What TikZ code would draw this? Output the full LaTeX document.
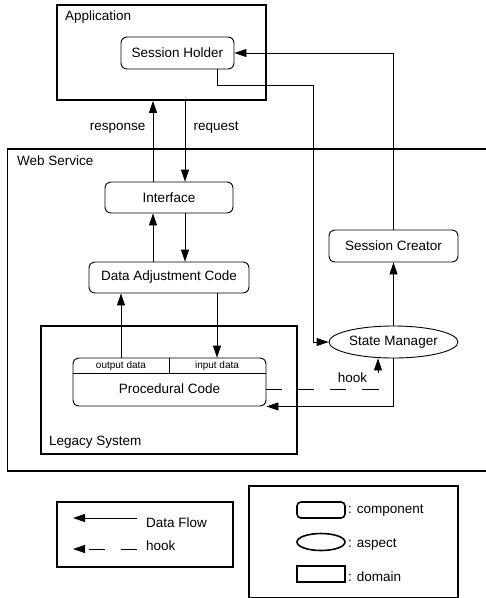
\documentclass[tikz,border=0pt]{standalone}
\usepackage{fontspec}
\setmainfont{Liberation Sans}
\usetikzlibrary{arrows.meta, positioning, shapes.geometric}
\tikzset{
  comp/.style={draw, rounded corners=6pt, line width=0.9pt, inner sep=0pt, minimum height=32pt},
  dombox/.style={draw, line width=1.7pt, inner sep=0pt},
  aspect/.style={draw, ellipse, line width=0.9pt, inner sep=0pt, minimum width=129pt, minimum height=32pt},
  tag/.style={inner sep=0pt, anchor=west},
  flow/.style={-{Triangle[length=12pt, width=8pt]}, line width=0.9pt},
  hookflow/.style={flow, dash pattern=on 16pt off 16pt},
  legbox/.style={draw, line width=1.3pt, inner sep=0pt},
}
\begin{document}
\begin{tikzpicture}[x=1pt, y=-1pt, font=\fontsize{13.5}{16}\selectfont]
  \useasboundingbox (0,0) rectangle (486,598);

  \node[dombox, minimum width=209pt, minimum height=95pt] (app) at (161.5,52.5) {};
  \node[tag] (applbl) at (65,17) {Application};
  \node[comp, minimum width=113pt] (sh) at (177.5,53) {Session Holder};

  \node[dombox, minimum width=480pt, minimum height=322pt] (ws) at (247.5,310) {};
  \node[tag] (wslbl) at (17,161) {Web Service};
  \node[comp, minimum width=128pt, minimum height=31pt] (iface) at (169,197.5) {Interface};
  \node[comp, minimum width=160pt, minimum height=31pt] (dadj) at (169,277.5) {Data Adjustment Code};
  \node[comp, minimum width=129pt] (sc) at (393.5,246) {Session Creator};
  \node[aspect] (sm) at (393.5,342) {State Manager};

  \node[dombox, minimum width=256pt, minimum height=128pt] (legacy) at (169,390) {};
  \node[tag] (legacylbl) at (49,442) {Legacy System};
  \node[comp, minimum width=193pt, minimum height=48pt] (proc) at (169.5,382) {};
  \draw[line width=0.9pt] ([yshift=-16pt]proc.north west) -- ([yshift=-16pt]proc.north east);
  \draw[line width=0.9pt] (proc.north) -- ([yshift=-16pt]proc.north);
  \node[font=\fontsize{10}{12}\selectfont] (outdata) at (121,366) {output data};
  \node[font=\fontsize{10}{12}\selectfont] (indata) at (217,366) {input data};
  \node (proclbl) at (169.5,389) {Procedural Code};

  \coordinate (xl) at (153,0);
  \coordinate (xr) at (185,0);
  \coordinate (k1) at (217,85);
  \coordinate (k2) at (313,85);
  \coordinate (hk) at (378,0);

  \draw[flow] (iface.north -| xl) -- (app.south -| xl);
  \draw[flow] (app.south -| xr) -- (iface.north -| xr);
  \node[anchor=east] (resp) at (149,128) {response};
  \node[anchor=west] (req) at (190,128) {request};
  \draw[flow] (dadj.north -| xl) -- (iface.south -| xl);
  \draw[flow] (iface.south -| xr) -- (dadj.north -| xr);
  \draw[flow] (proc.north -| outdata) -- (dadj.south -| outdata);
  \draw[flow] (dadj.south -| indata) -- (proc.north -| indata);
  \draw[flow] (sh.south -| k1) -- (k1) -- (k2) |- (sm.west);
  \draw[flow] (sc.north) |- (sh.east);
  \draw[flow] (sm.north) -- (sc.south);
  \draw[flow] (sm.south) |- (proc.south east);
  \draw[hookflow] ([yshift=-7pt]proc.east) -| (sm.south -| hk);
  \node (hooklbl) at (352.5,378) {hook};

  \node[legbox, minimum width=176pt, minimum height=65pt] (leg1) at (145,534.5) {};
  \coordinate (fa) at (137,518);
  \coordinate (fb) at (73,518);
  \coordinate (ha) at (137,549);
  \coordinate (hb) at (73,549);
  \draw[flow] (fa) -- (fb);
  \draw[hookflow] (ha) -- (hb);
  \node[tag] (flowlbl) at (146,523) {Data Flow};
  \node[tag] (hooklbl2) at (146,546) {hook};

  \node[legbox, minimum width=209pt, minimum height=111.5pt] (leg2) at (353.5,541.75) {};
  \node[comp, line width=1.6pt, rounded corners=4pt, minimum width=48pt, minimum height=16pt] (compicon) at (321,510) {};
  \node[aspect, line width=1.6pt, minimum width=48pt, minimum height=17pt] (aspicon) at (321,542) {};
  \node[dombox, line width=1.6pt, minimum width=48pt, minimum height=16pt] (domicon) at (321,574) {};
  \node[tag] (complbl) at (348,511) {: component};
  \node[tag] (asplbl) at (348,545) {: aspect};
  \node[tag] (domlbl) at (348,577) {: domain};
\end{tikzpicture}
\end{document}
